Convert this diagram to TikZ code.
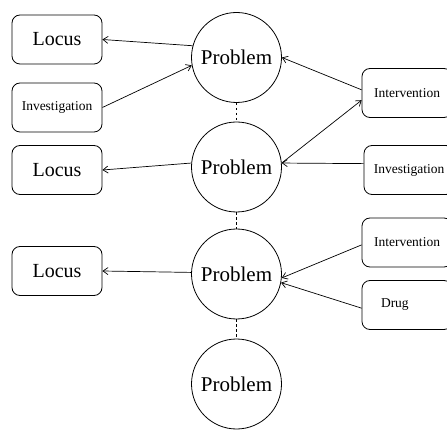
\documentclass[tikz,border=0pt]{standalone}
\usepackage{fontspec}
\setmainfont{Liberation Serif}
\usetikzlibrary{arrows.meta}
\begin{document}
\begin{tikzpicture}[x=1pt,y=-1pt,
  prob/.style={draw, circle, minimum size=90pt, inner sep=0pt, line width=0.8pt, font=\fontsize{21}{24}\selectfont},
  bigbox/.style={draw, rounded corners=8pt, minimum width=90pt, minimum height=49pt, inner sep=0pt, line width=0.8pt, font=\fontsize{20}{24}\selectfont},
  smallbox/.style={draw, rounded corners=8pt, minimum width=90pt, minimum height=49pt, inner sep=0pt, line width=0.8pt, font=\fontsize{13.5}{16}\selectfont},
  conn/.style={-{Straight Barb[length=5pt,width=7pt]}, line width=0.7pt},
  link/.style={line width=0.8pt, dash pattern=on 2.5pt off 2.5pt}]
\useasboundingbox (0,0) rectangle (447,430);
\node[prob] (p1) at (236.5,57.5) {Problem};
\node[prob] (p2) at (236.5,167) {Problem};
\node[prob] (p3) at (236.5,274) {Problem};
\node[prob] (p4) at (236.5,384) {Problem};
\node[bigbox] (l1) at (57,39.5) {Locus};
\node[smallbox] (i1) at (57,107.5) {Investigation};
\node[bigbox] (l2) at (57,170) {Locus};
\node[bigbox] (l3) at (57,271) {Locus};
\node[smallbox] (int1) at (407,93) {Intervention};
\node[smallbox] (inv2) at (409,170) {Investigation};
\node[smallbox] (int2) at (407,242.5) {Intervention};
\node[smallbox, text width=52pt, align=left] (dr) at (407,305) {Drug};
\draw[link] (p1.south) -- (p2.north);
\draw[link] (p2.south) -- (p3.north);
\draw[link] (p3.south) -- (p4.north);
\draw[conn] (p1.165) -- (l1.east);
\draw[conn] (i1.east) -- (p1.190);
\draw[conn] (p2.175) -- (l2.east);
\draw[conn] (int1.176) -- (p1.east);
\draw[conn] (p2.5) -- (int1.189);
\draw[conn] (inv2.172) -- (p2.5);
\draw[conn] (p3.178) -- (l3.east);
\draw[conn] (int2.183) -- (p3.355);
\draw[conn] (dr.184) -- (p3.349);
\end{tikzpicture}
\end{document}
